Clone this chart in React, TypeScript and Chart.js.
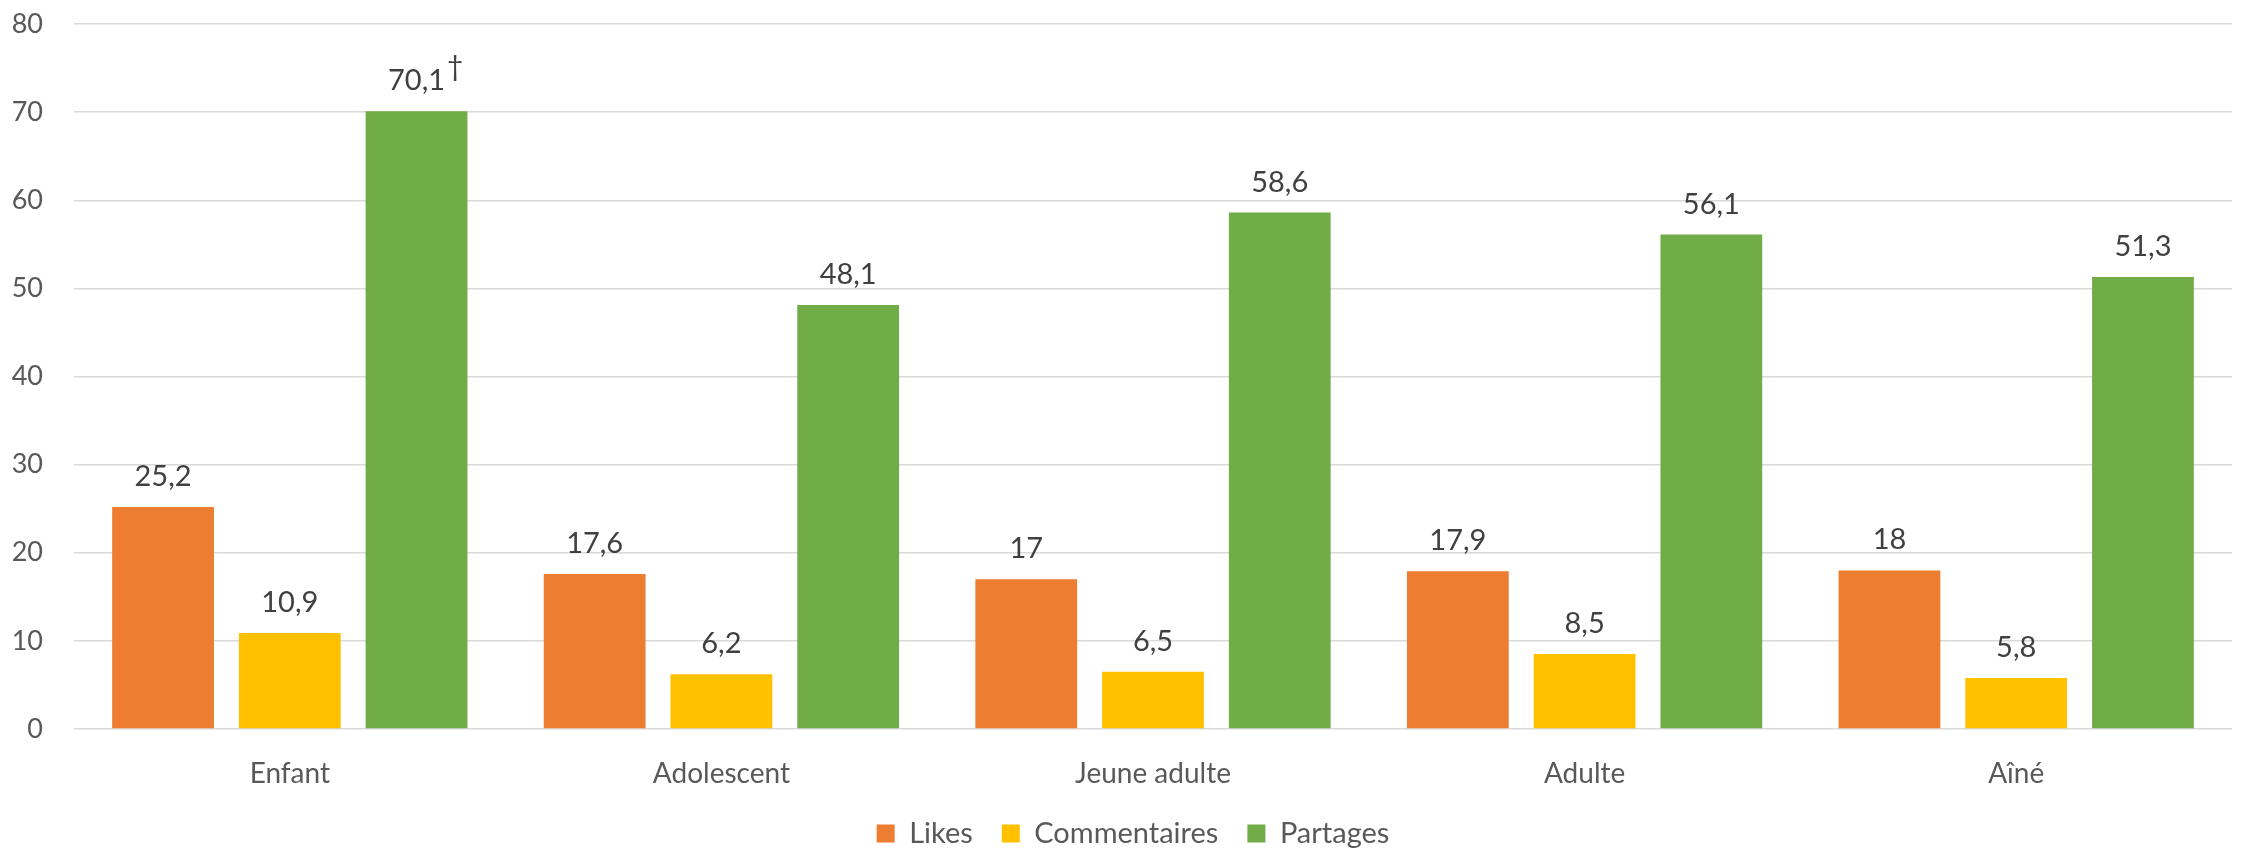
import { useEffect, useRef } from "react";
import { Chart, registerables } from "chart.js";

Chart.register(...registerables);

const categories = ["Enfant", "Adolescent", "Jeune adulte", "Adulte", "Aîné"];
const seriesNames = ["Likes", "Commentaires", "Partages"];
const likes = [25.2, 17.6, 17, 17.9, 18];
const commentaires = [10.9, 6.2, 6.5, 8.5, 5.8];
const partages = [70.1, 48.1, 58.6, 56.1, 51.3];
const likesNotes = ["", "", "", "", ""];
const commentairesNotes = ["", "", "", "", ""];
const partagesNotes = ["†", "", "", "", ""];
const yMin = 0;
const yMax = 80;
const yStep = 10;

const colors = ["#ED7D31", "#FFC000", "#70AD47"];
const FONT = "Lato, 'Noto Sans', sans-serif";

const fmt = (v: number) => String(v).replace(".", ",");

const dataLabelPlugin = {
  id: "dataLabels",
  afterDatasetsDraw(chart: any) {
    const { ctx } = chart;
    const notes = [likesNotes, commentairesNotes, partagesNotes];
    ctx.save();
    chart.data.datasets.forEach((ds: any, di: number) => {
      const meta = chart.getDatasetMeta(di);
      meta.data.forEach((el: any, i: number) => {
        const text = fmt(ds.data[i]);
        const y = el.y - 21;
        ctx.font = `29px ${FONT}`;
        ctx.fillStyle = "#404040";
        ctx.textAlign = "center";
        ctx.textBaseline = "alphabetic";
        ctx.fillText(text, el.x, y);
        const note = notes[di][i];
        if (note) {
          const w = ctx.measureText(text).width;
          ctx.textAlign = "left";
          ctx.font = `28px ${FONT}`;
          ctx.fillText(note, el.x + w / 2 + 2, y - 14);
        }
      });
    });
    ctx.restore();
  },
};

const legendShiftPlugin = {
  id: "legendShift",
  afterLayout(chart: any) {
    if (chart.legend) {
      chart.legend.left += 34;
    }
  },
};

export default function App() {
  const ref = useRef<HTMLCanvasElement | null>(null);

  useEffect(() => {
    document.body.style.margin = "0";
    const canvas = ref.current;
    if (!canvas) return;
    const chart = new Chart(canvas, {
      type: "bar",
      data: {
        labels: categories,
        datasets: [
          { label: seriesNames[0], data: likes, backgroundColor: colors[0], borderWidth: 0 },
          { label: seriesNames[1], data: commentaires, backgroundColor: colors[1], borderWidth: 0 },
          { label: seriesNames[2], data: partages, backgroundColor: colors[2], borderWidth: 0 },
        ],
      },
      options: {
        responsive: false,
        animation: false,
        events: [],
        datasets: {
          bar: { categoryPercentage: 0.881, barPercentage: 0.803 },
        },
        layout: { padding: { top: 24, right: 12, left: 0, bottom: -9 } },
        scales: {
          x: {
            grid: { display: false },
            border: { display: false },
            ticks: {
              color: "#595959",
              font: { family: FONT, size: 28, lineHeight: 1.0 },
              padding: 23,
            },
            afterFit: (scale: any) => {
              scale.height = 61;
            },
          },
          y: {
            min: yMin,
            max: yMax,
            ticks: {
              stepSize: yStep,
              color: "#595959",
              font: { family: FONT, size: 27 },
              padding: 31,
            },
            grid: { color: "#d9d9d9", lineWidth: 1.5, drawTicks: false },
            border: { display: false },
            afterFit: (scale: any) => {
              scale.width = 74;
              scale.paddingTop = 10;
              scale.paddingBottom = 10;
            },
          },
        },
        plugins: {
          legend: {
            position: "bottom",
            labels: {
              color: "#595959",
              font: { family: FONT, size: 29 },
              boxWidth: 18,
              boxHeight: 18,
              padding: 29,
            },
          },
          tooltip: { enabled: false },
        },
      },
      plugins: [dataLabelPlugin, legendShiftPlugin],
    });
    return () => chart.destroy();
  }, []);

  return (
    <div style={{ width: 2244, height: 849 }}>
      <canvas ref={ref} width={2244} height={849} style={{ display: "block" }} />
    </div>
  );
}
